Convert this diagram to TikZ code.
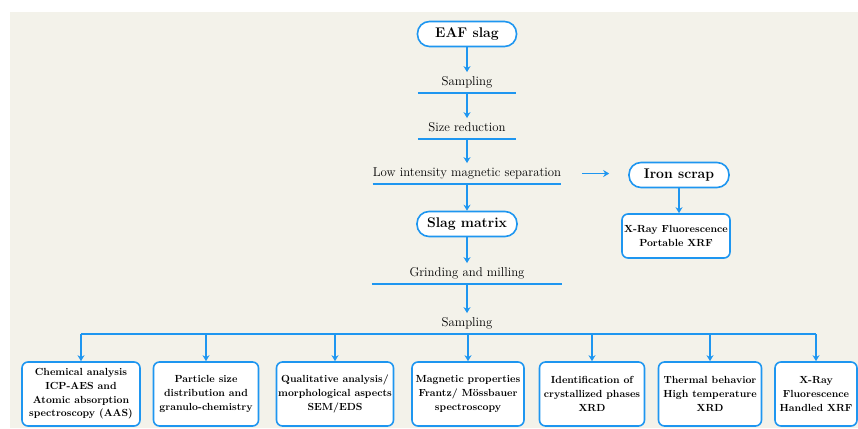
\documentclass[tikz,border=0pt]{standalone}
\usetikzlibrary{arrows.meta,positioning}
\definecolor{flowblue}{RGB}{30,150,240}
\definecolor{paper}{RGB}{243,242,234}
\tikzset{
    pill/.style = {draw=flowblue, line width=1.6pt, rounded corners=12pt, fill=white,
        minimum height=25pt, font=\fontsize{14}{16}\selectfont\bfseries},
    stage/.style = {anchor=south, inner xsep=0pt, inner ysep=4pt, text height=9.5pt, text depth=3pt,
        font=\fontsize{12.8}{15}\selectfont},
    result/.style = {draw=flowblue, line width=1.6pt, rounded corners=6pt, fill=white, align=center,
        minimum height=64pt, inner xsep=1pt, font=\fontsize{10.3}{13.6}\selectfont\bfseries},
    flow/.style = {draw=flowblue, line width=1.6pt, -{Stealth[length=6pt,width=7pt]}},
    bar/.style = {draw=flowblue, line width=1.6pt},
}
\begin{document}
\begin{tikzpicture}[x=1pt,y=1pt]
\useasboundingbox (0,0) rectangle (858,428);
\fill[paper] (10,0) rectangle (858,416);

\node[pill,minimum width=99pt] (eaf) at (467,394) {EAF slag};
\node[stage,minimum width=98pt] (samp1) at (467,335) {Sampling};
\node[stage,minimum width=98pt] (size) at (467,289) {Size reduction};
\node[stage,minimum width=187pt] (lims) at (467,244) {Low intensity magnetic separation};
\node[pill,minimum width=100pt] (slag) at (467,204) {Slag matrix};
\node[stage,minimum width=190pt] (grind) at (467,144) {Grinding and milling};
\node[stage] (samp2) at (467,94) {Sampling};

\node[pill,minimum width=100pt] (iron) at (679,253) {Iron scrap};
\node[result,minimum width=108pt,minimum height=44pt] (xrf) at (676,192) {X-Ray Fluorescence\\Portable XRF};

\node[result,minimum width=118pt] (b1) at (81,34) {Chemical analysis\\ICP-AES and\\Atomic absorption\\spectroscopy (AAS)};
\node[result,minimum width=105pt] (b2) at (206,34) {Particle size\\distribution and\\granulo-chemistry};
\node[result,minimum width=117pt] (b3) at (335,34) {Qualitative analysis/\\morphological aspects\\SEM/EDS};
\node[result,minimum width=112pt] (b4) at (468,34) {Magnetic properties\\Frantz/ Mössbauer\\spectroscopy};
\node[result,minimum width=105pt] (b5) at (592,34) {Identification of\\crystallized phases\\XRD};
\node[result,minimum width=103pt] (b6) at (710,34) {Thermal behavior\\High temperature\\XRD};
\node[result,minimum width=82pt] (b7) at (816,34) {X-Ray\\Fluorescence\\Handled XRF};

\foreach \s in {samp1,size,lims,grind}
    \draw[bar] (\s.south west) -- (\s.south east);

\draw[flow] (eaf.south) -- (samp1.north);
\draw[flow] (samp1.south) -- (size.north);
\draw[flow] (size.south) -- (lims.north);
\draw[flow] (lims.south) -- (slag.north);
\draw[flow] (slag.south) -- (grind.north);
\draw[flow] (grind.south) -- (samp2.north);

\draw[flow] ([xshift=21pt]lims.east) -- ([xshift=-19pt]iron.west |- lims.east);
\draw[flow] (iron.south) -- (iron.south |- xrf.north);

\draw[bar] (b1.north |- samp2.south) -- (b7.north |- samp2.south);
\foreach \b in {b1,b2,b3,b4,b5,b6,b7}
    \draw[flow] (\b.north |- samp2.south) -- (\b.north);
\end{tikzpicture}
\end{document}
